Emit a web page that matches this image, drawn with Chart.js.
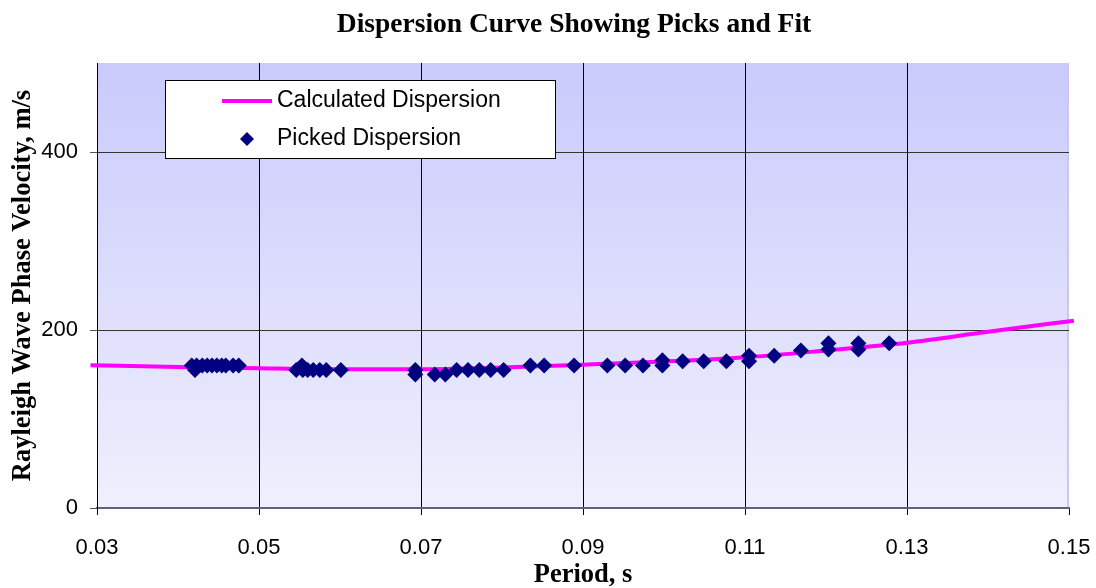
<!DOCTYPE html>
<html><head><meta charset="utf-8">
<script src="https://cdn.jsdelivr.net/npm/chart.js@4.4.1/dist/chart.umd.min.js"></script>
<style>html,body{margin:0;padding:0;background:#fff;overflow:hidden}</style>
</head><body>
<canvas id="c" width="1096" height="588" style="display:block;width:1096px;height:588px"></canvas>
<script>
const chartTitle = 'Dispersion Curve Showing Picks and Fit';
const xAxisTitle = 'Period, s';
const yAxisTitle = 'Rayleigh Wave Phase Velocity, m/s';
const calcLabel = 'Calculated Dispersion';
const pickLabel = 'Picked Dispersion';

const calcPeriod   = [0.0292, 0.04, 0.05, 0.06, 0.07, 0.08, 0.09, 0.10, 0.11, 0.12, 0.13, 0.14, 0.1506];
const calcVelocity = [160.3, 158.5, 157, 156, 156, 158, 161, 164.5, 169.3, 177, 185.7, 198, 210.5];

const pickPeriod = [0.0417, 0.0421, 0.0423, 0.0430, 0.0436, 0.0442, 0.0448, 0.0454, 0.0459, 0.0468, 0.0475,
  0.0546, 0.0553, 0.0554, 0.0560, 0.0567, 0.0575, 0.0583, 0.0601,
  0.0693, 0.0693, 0.0717, 0.0730, 0.0744, 0.0758, 0.0772, 0.0786, 0.0802,
  0.0835, 0.0852, 0.0889, 0.0930, 0.0952, 0.0974, 0.0998, 0.0998, 0.1023,
  0.1049, 0.1077, 0.1105, 0.1105, 0.1136, 0.1169, 0.1203, 0.1203, 0.1240, 0.1240, 0.1278];
const pickVelocity = [160, 155, 160, 160, 160, 160, 160, 160, 160, 160, 160,
  155, 160, 155, 155, 155, 155, 155, 155,
  155, 150, 150, 150, 155, 155, 155, 155, 155,
  160, 160, 160, 160, 160, 160, 166, 160, 165,
  165, 165, 171, 165, 171, 177, 185, 178, 185, 178, 185];

const xTicks = [0.03, 0.05, 0.07, 0.09, 0.11, 0.13, 0.15];
const yTicks = [0, 200, 400];

const calcPts = calcPeriod.map((x, i) => ({x, y: calcVelocity[i]}));
const pickPts = pickPeriod.map((x, i) => ({x, y: pickVelocity[i]}));

const serif = '"Liberation Serif", "Times New Roman", serif';
const sans = '"Liberation Sans", Arial, sans-serif';

const plotBg = {
  id: 'plotBg',
  beforeDraw(chart) {
    const {ctx, chartArea: a} = chart;
    ctx.save();
    const g = ctx.createLinearGradient(0, a.top, 0, a.bottom);
    g.addColorStop(0, 'rgb(202,202,252)');
    g.addColorStop(1, 'rgb(239,239,253)');
    ctx.fillStyle = g;
    ctx.fillRect(a.left, a.top, a.right - a.left, a.bottom - a.top);
    ctx.fillStyle = 'rgb(200,200,245)';
    ctx.fillRect(a.right - 2, a.top, 2, a.bottom - a.top);
    ctx.restore();
  }
};

const topTitle = {
  id: 'topTitle',
  afterDraw(chart) {
    const {ctx} = chart;
    ctx.save();
    ctx.font = 'bold 27.5px ' + serif;
    ctx.fillStyle = '#000';
    ctx.textAlign = 'center';
    ctx.textBaseline = 'middle';
    ctx.fillText(chartTitle, 574, 25);
    ctx.restore();
  }
};

const boxLegend = {
  id: 'boxLegend',
  afterDatasetsDraw(chart) {
    const {ctx, chartArea: a} = chart;
    const x0 = a.left + 68, y0 = a.top + 17, w = 390, h = 78;
    ctx.save();
    ctx.fillStyle = '#fff';
    ctx.fillRect(x0, y0, w, h);
    ctx.strokeStyle = '#000';
    ctx.lineWidth = 1;
    ctx.strokeRect(x0 + 0.5, y0 + 0.5, w, h);
    const ds = chart.data.datasets;
    ctx.font = '23px ' + sans;
    ctx.textBaseline = 'middle';
    ctx.textAlign = 'left';
    const yA = y0 + 21, yB = y0 + 59;
    ctx.strokeStyle = ds[0].borderColor;
    ctx.lineWidth = 4;
    ctx.beginPath(); ctx.moveTo(x0 + 57, yA); ctx.lineTo(x0 + 107, yA); ctx.stroke();
    ctx.fillStyle = '#000';
    ctx.fillText(ds[0].label, x0 + 112, yA);
    ctx.fillStyle = ds[1].backgroundColor;
    ctx.beginPath();
    ctx.moveTo(x0 + 82, yB - 7); ctx.lineTo(x0 + 89, yB); ctx.lineTo(x0 + 82, yB + 7); ctx.lineTo(x0 + 75, yB); ctx.closePath();
    ctx.fill();
    ctx.fillStyle = '#000';
    ctx.fillText(ds[1].label, x0 + 112, yB);
    ctx.restore();
  }
};

new Chart(document.getElementById('c'), {
  type: 'scatter',
  data: {
    datasets: [
      {label: calcLabel, data: calcPts, showLine: true, borderColor: '#ff00ff', borderWidth: 4,
       pointRadius: 0, cubicInterpolationMode: 'monotone', clip: false, order: 1},
      {label: pickLabel, data: pickPts, showLine: false, pointStyle: 'rectRot', pointRadius: 8,
       backgroundColor: '#000080', borderColor: '#000080', borderWidth: 0, order: 0}
    ]
  },
  options: {
    responsive: false,
    animation: false,
    devicePixelRatio: 1,
    layout: {padding: {left: 0, right: 27, top: 63, bottom: 0}},
    plugins: {
      legend: {display: false},
      tooltip: {enabled: false},
      title: {display: false}
    },
    scales: {
      x: {
        type: 'linear', min: 0.03, max: 0.15,
        afterBuildTicks: s => { s.ticks = xTicks.map(v => ({value: v})); },
        afterFit: s => { s.height = 80; s.paddingLeft = 0; s.paddingRight = 0; },
        ticks: {color: '#000', padding: 20, font: {family: sans, size: 22},
          callback: v => Number(v).toFixed(2), maxRotation: 0, autoSkip: false},
        grid: {color: c => (c.tick && Math.abs(c.tick.value - 0.15) < 1e-9) ? 'rgba(0,0,0,0)' : '#000',
          tickColor: '#000', tickLength: 7, lineWidth: 1},
        border: {color: '#606080', width: 2},
        title: {display: true, text: xAxisTitle, color: '#000',
          font: {family: serif, size: 26.5, weight: 'bold', lineHeight: 1.0}, padding: 0}
      },
      y: {
        type: 'linear', min: 0, max: 500,
        afterBuildTicks: s => { s.ticks = yTicks.map(v => ({value: v})); },
        afterFit: s => { s.width = 97; s.paddingTop = 0; s.paddingBottom = 0; },
        ticks: {color: '#000', padding: 12, font: {family: sans, size: 22}},
        grid: {color: c => (c.tick && c.tick.value === 0) ? '#606080' : '#333',
          tickColor: '#555', tickLength: 7, lineWidth: 1},
        border: {color: '#000', width: 1},
        title: {display: true, text: yAxisTitle, color: '#000',
          font: {family: serif, size: 26.5, weight: 'bold'}, padding: 7}
      }
    }
  },
  plugins: [plotBg, boxLegend, topTitle]
});
</script>
</body></html>
